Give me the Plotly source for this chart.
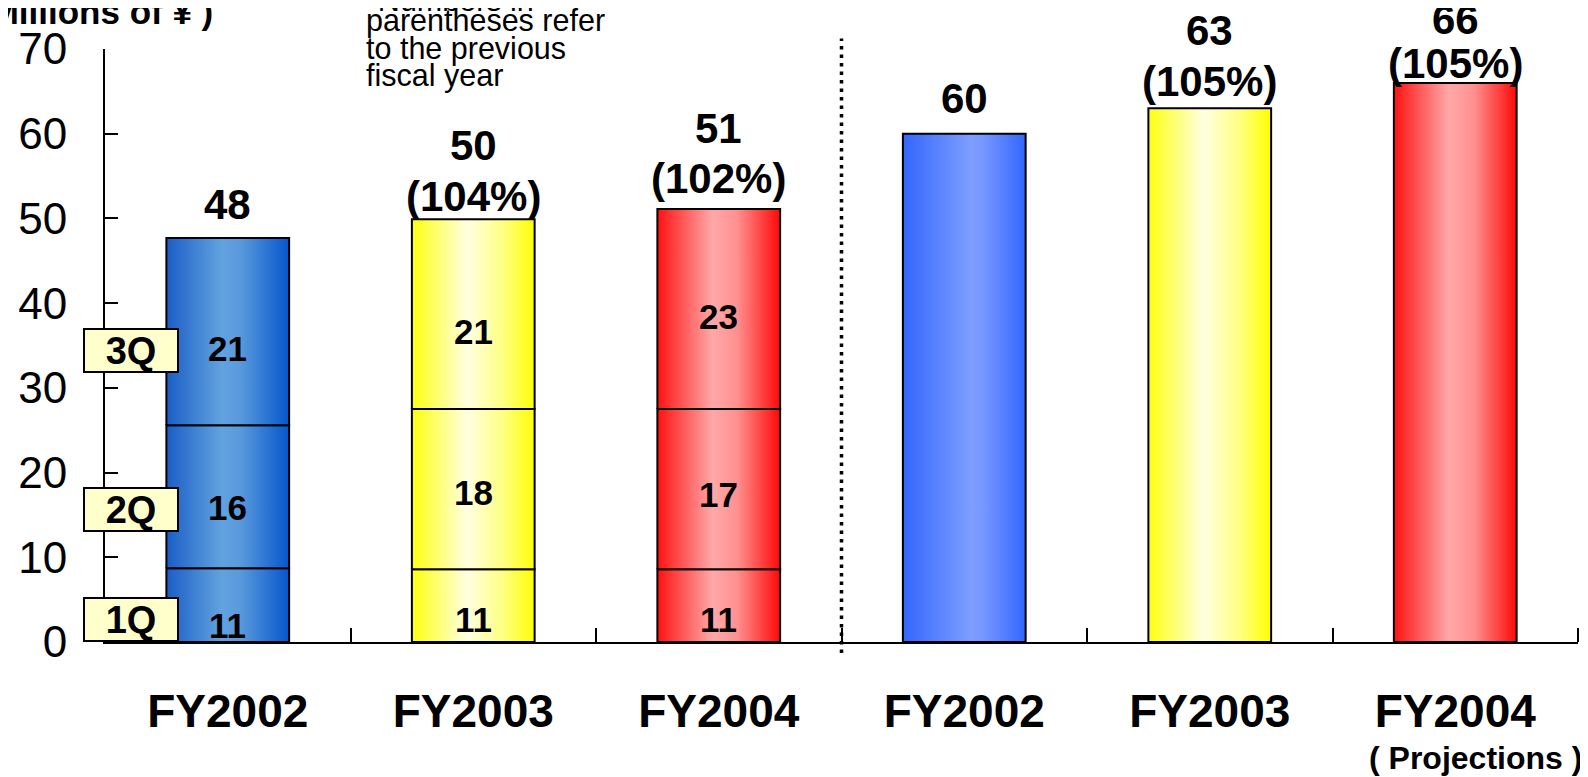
import plotly.graph_objects as go

# categories (left: results through 3Q, right: full year)
cats = ["FY2002", "FY2003", "FY2004", "FY2002", "FY2003", "FY2004"]

# stacked quarter segments as drawn (millions)
q1 = [8.7, 8.6, 8.6]
q2 = [16.9, 18.9, 18.9]
q3 = [22.1, 22.4, 23.6]
# printed quarter values
q1_lbl = [11, 11, 11]
q2_lbl = [16, 18, 17]
q3_lbl = [21, 21, 23]

# full year bars
full_year = [60, 63, 66]

# totals printed above bars, growth vs previous year (%)
totals = [48, 50, 51, 60, 63, 66]
growth = [None, 104, 102, None, 105, 105]

quarters = ["1Q", "2Q", "3Q"]

# gradients (edge -> light -> edge), left to right
grad_blue_dark = [[0, "#1a5ec6"], [0.45, "#62a2e0"], [0.6, "#5a9adc"], [1, "#0656cc"]]
grad_blue = [[0, "#3366ff"], [0.55, "#7d9dff"], [0.65, "#7898ff"], [1, "#3366ff"]]
grad_yellow = [[0, "#ffff10"], [0.45, "#ffffe2"], [0.75, "#ffff80"], [1, "#ffff00"]]
grad_red = [[0, "#ff1212"], [0.45, "#ffa8a8"], [0.65, "#ff9090"], [1, "#ff0808"]]
grads = [grad_blue_dark, grad_yellow, grad_red, grad_blue, grad_yellow, grad_red]

FONT = "Liberation Sans"
half = 0.25

fig = go.Figure()


def add_block(x, y0, y1, cs):
    fig.add_trace(go.Scatter(
        x=[x - half, x + half, x + half, x - half, x - half],
        y=[y0, y0, y1, y1, y0],
        mode="lines", fill="toself",
        fillgradient=dict(type="horizontal", colorscale=cs),
        line=dict(color="black", width=2),
        hoverinfo="skip", showlegend=False,
    ))


# stacked bars
for i in range(3):
    base = 0
    for h in (q1[i], q2[i], q3[i]):
        add_block(i, base, base + h, grads[i])
        base += h

# projection bars
for j, v in enumerate(full_year):
    add_block(3 + j, 0, v, grads[3 + j])

ann = []

# segment labels
seg_y = [[2.0, 15.9, 34.6], [2.7, 17.6, 36.6], [2.7, 17.4, 38.4]]
for i in range(3):
    for k, v in enumerate((q1_lbl[i], q2_lbl[i], q3_lbl[i])):
        ann.append(dict(x=i, y=seg_y[i][k], xref="x", yref="y", text=str(v),
                        showarrow=False, font=dict(family=FONT, size=35, color="black", weight="bold")))

# totals above bars (pixel gaps of label centres above the bar top)
bar_tops = [sum(t) for t in zip(q1, q2, q3)] + full_year
gap_low = [33, 23, 31, 35, 27, 19]
gap_high = [0, 74, 81, 0, 78, 63]
big = dict(family=FONT, size=42, color="black", weight="bold")
for i, t in enumerate(totals):
    if growth[i] is None:
        ann.append(dict(x=i, y=bar_tops[i], xref="x", yref="y", text=str(t), showarrow=False,
                        yanchor="middle", yshift=gap_low[i], font=big))
    else:
        ann.append(dict(x=i, y=bar_tops[i], xref="x", yref="y", text="(%d%%)" % growth[i],
                        showarrow=False, yanchor="middle", yshift=gap_low[i], font=big))
        ann.append(dict(x=i, y=bar_tops[i], xref="x", yref="y", text=str(t), showarrow=False,
                        yanchor="middle", yshift=gap_high[i], font=big))

# quarter tags on the left
q_y = [2.7, 15.6, 34.4]
for k, q in enumerate(quarters):
    ann.append(dict(x=-0.0149, y=q_y[k], xref="paper", yref="y", text=q, showarrow=False,
                    xanchor="left", width=92, height=41, bgcolor="#ffffcc",
                    bordercolor="black", borderwidth=2, borderpad=0,
                    font=dict(family=FONT, size=38, color="black", weight="bold")))

# unit and note
ann.append(dict(x=0.0747, y=1.064, xref="paper", yref="paper", text="(Millions of ¥ )",
                xanchor="right", yanchor="middle", showarrow=False,
                font=dict(family=FONT, size=35, color="black", weight="bold")))
note = ["*Numbers in", "parentheses refer", "to the previous", "fiscal year"]
note_px = [-0.5, 21, 48.5, 76]
for k, line in enumerate(note):
    ann.append(dict(x=(364 - 105) / 1473, y=(642 - note_px[k]) / 593, xref="paper", yref="paper",
                    text=line, xanchor="left", yanchor="middle", showarrow=False,
                    font=dict(family=FONT, size=30.5, color="black")))

ann.append(dict(x=5, y=-0.195, xref="x", yref="paper", text="( Projections )", xshift=20,
                showarrow=False, yanchor="middle",
                font=dict(family=FONT, size=32, color="black", weight="bold")))

fig.update_layout(
    width=1588, height=777,
    margin=dict(l=97, r=18, t=41, b=143),
    paper_bgcolor="white", plot_bgcolor="white",
    showlegend=False,
    annotations=ann,
    shapes=[dict(type="line", xref="x", yref="paper", x0=2.5, x1=2.5, y0=-0.0185, y1=1.0177,
                 line=dict(color="black", width=3.5, dash="3.5px,5px"))],
    xaxis=dict(range=[-0.5, 5.5], tickmode="array", tickvals=list(range(6)), ticktext=cats,
               ticks="", showgrid=False, zeroline=False, showline=True, linecolor="black", linewidth=2,
               tickfont=dict(family=FONT, size=46, color="black", weight="bold"),
               ticklabelstandoff=28, automargin=False,
               minor=dict(tickmode="array", tickvals=[0.5, 1.5, 2.5, 3.5, 4.5, 5.5],
                          ticks="inside", ticklen=14, tickwidth=2, tickcolor="black")),
    yaxis=dict(range=[0, 70], tickmode="array", tickvals=list(range(0, 71, 10)),
               ticks="inside", ticklen=13, tickwidth=2, tickcolor="black",
               showgrid=False, zeroline=False, showline=True, linecolor="black", linewidth=2,
               tickfont=dict(family=FONT, size=44, color="black"), ticklabelstandoff=27,
               automargin=False),
)

fig.write_html("out.html")
